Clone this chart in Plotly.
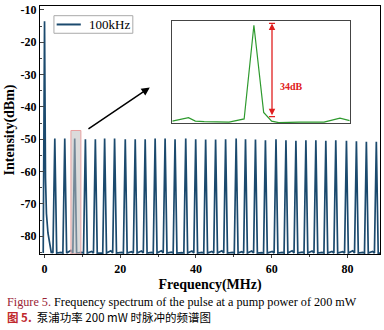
import plotly.graph_objects as go

# ---------------- data ----------------
# main spectrum: central (DC) spike and the comb of harmonics
dc_x = [-0.35, 0.0, 0.25, 0.5, 0.9, 1.3, 1.8]
dc_y = [-85.2, -13.5, -62.0, -73.0, -79.0, -82.0, -85.2]

peak_freqs = [2.71, 5.34, 7.97, 10.79, 13.42, 15.87, 18.50, 21.32, 23.95, 26.58,
              29.21, 31.84, 34.47, 37.29, 39.92, 42.55, 45.18, 47.82, 50.61, 53.08,
              55.71, 58.34, 61.13, 63.76, 66.39, 69.03, 71.66, 74.29, 76.92, 79.74,
              82.37, 85.00, 87.63]
peak_levels = [-49.8, -49.8, -49.8, -50.0, -50.0, -49.8, -49.8, -50.0, -50.0, -50.0,
               -49.8, -49.8, -50.0, -49.8, -50.0, -50.1, -50.1, -50.0, -49.8, -50.0,
               -50.1, -50.3, -50.0, -50.3, -50.5, -50.3, -50.3, -50.5, -50.3, -50.5,
               -50.6, -50.8, -50.8]
floor_levels = [-84.6, -85.0, -84.4, -85.0, -84.7, -85.1, -84.5, -85.0, -84.8, -84.6,
                -85.0, -84.5, -84.9, -85.1, -84.6, -85.0, -84.7, -84.5, -85.0, -84.8,
                -84.6, -85.1, -84.7, -85.0, -84.5, -84.9, -84.6, -85.0, -84.7, -84.8,
                -84.5, -85.0, -84.7]

# inset (zoom on one harmonic)
inset_x = [0.0, 1.83, 2.6, 3.6, 6.4, 8.1, 9.2, 10.3, 11.2, 12.0, 14.3, 17.1, 18.9, 20.0]
inset_y = [-85.63, -84.35, -85.63, -85.81, -85.99, -84.83, -50.3, -82.42, -85.63,
           -86.17, -85.99, -85.99, -84.53, -85.45]

x_ticks = [0, 20, 40, 60, 80]
y_ticks = [-10, -20, -30, -40, -50, -60, -70, -80]
legend_label = "100kHz"

# ---------------- build trace ----------------
xs, ys = list(dc_x), list(dc_y)
floor = -85.2
for f, lv, fl in zip(peak_freqs, peak_levels, floor_levels):
    xs += [f - 1.0, f - 0.5, f, f + 0.5]
    ys += [fl, floor, lv, floor]
xs.append(88.6)
ys.append(floor)

BLUE = "#1b4a6e"
SERIF = "Liberation Serif"

fig = go.Figure()
fig.add_trace(go.Scatter(x=xs, y=ys, mode="lines", name=legend_label, showlegend=False,
                         line=dict(color=BLUE, width=1.7)))
fig.add_trace(go.Scatter(x=inset_x, y=inset_y, mode="lines", showlegend=False,
                         line=dict(color="#2e9a2e", width=1.2),
                         xaxis="x2", yaxis="y2"))

axis_font = dict(family=SERIF, size=12, color="black")
fig.update_layout(
    width=384, height=330,
    margin=dict(l=40, r=3, t=3, b=76),
    paper_bgcolor="white", plot_bgcolor="white",
    font=dict(family=SERIF, color="black"),
    xaxis=dict(range=[-1.2, 88.6], tickvals=x_ticks,
               ticktext=[f"<b>{v}</b>" for v in x_ticks],
               tickfont=axis_font, ticks="outside", ticklen=3, tickwidth=1.2,
               minor=dict(dtick=10, tick0=0, ticks="outside", ticklen=2),
               showline=True, linecolor="black", linewidth=1.4, mirror=True,
               showgrid=False, zeroline=False,
               title=dict(text="<b>Frequency(MHz)</b>", standoff=4,
                          font=dict(family=SERIF, size=14))),
    yaxis=dict(range=[-85.5, -8.8], tickvals=y_ticks,
               ticktext=[f"<b>{v}</b>" for v in y_ticks],
               tickfont=axis_font, ticks="inside", ticklen=4, tickwidth=1.2,
               minor=dict(dtick=5, tick0=0, ticks="inside", ticklen=2),
               showline=True, linecolor="black", linewidth=1.4, mirror=True,
               showgrid=False, zeroline=False,
               title=dict(text="<b>Intensity(dBm)</b>", standoff=2,
                          font=dict(family=SERIF, size=14))),
    xaxis2=dict(domain=[0.389, 0.911], anchor="y2", range=[0, 20],
                showline=True, linecolor="#444444", linewidth=1, mirror=True,
                showticklabels=False, ticks="", showgrid=False, zeroline=False),
    yaxis2=dict(domain=[0.527, 0.939], anchor="x2", range=[-86.44, -48.76],
                showline=True, linecolor="#444444", linewidth=1, mirror=True,
                showticklabels=False, ticks="", showgrid=False, zeroline=False),
)

# legend (drawn manually for the compact box)
fig.add_shape(type="rect", xref="paper", yref="paper", x0=0.041, x1=0.273,
              y0=0.890, y1=0.961, fillcolor="white", line=dict(color="#aaaaaa", width=1))
fig.add_shape(type="line", xref="paper", yref="paper", x0=0.049, x1=0.120,
              y0=0.9255, y1=0.9255, line=dict(color=BLUE, width=2))
fig.add_annotation(x=0.138, y=0.9255, xref="paper", yref="paper", xanchor="left",
                   yanchor="middle", showarrow=False, text=legend_label,
                   font=dict(family=SERIF, size=13, color="black"))

# highlighted harmonic
fig.add_shape(type="rect", xref="x", yref="y", x0=6.97, x1=9.6, y0=-85.5, y1=-47.3,
              fillcolor="rgba(190,190,190,0.55)", line=dict(color="#e8a0a0", width=1),
              layer="above")

# black arrow to the inset
fig.add_annotation(x=27.8, y=-34.0, ax=11.2, ay=-47.1, xref="x", yref="y",
                   axref="x", ayref="y", text="", showarrow=True,
                   arrowhead=2, arrowsize=1.1, arrowwidth=1.5, arrowcolor="black")

# red double arrow in inset
RED = "#e02020"
fig.add_annotation(x=11.24, y=-49.6, ax=11.24, ay=-84.0, xref="x2", yref="y2",
                   axref="x2", ayref="y2", text="", showarrow=True,
                   arrowhead=2, startarrowhead=2, arrowside="end+start",
                   arrowsize=1, startarrowsize=1, arrowwidth=1.3, arrowcolor=RED)
for yv in (-49.6, -84.0):
    fig.add_shape(type="line", xref="x2", yref="y2", x0=10.9, x1=11.58, y0=yv, y1=yv,
                  line=dict(color=RED, width=1.2))
fig.add_annotation(x=13.4, y=-73.0, xref="x2", yref="y2", text="<b>34dB</b>",
                   showarrow=False, font=dict(family=SERIF, size=10, color=RED))

# caption
fig.add_annotation(x=-0.103, y=-0.195, xref="paper", yref="paper", xanchor="left",
                   yanchor="middle", showarrow=False, align="left",
                   text="<span style='color:#9b2335'>Figure 5.</span> Frequency spectrum of the pulse at a pump power of 200 mW",
                   font=dict(family=SERIF, size=12.2, color="black"))
fig.add_annotation(x=-0.103, y=-0.255, xref="paper", yref="paper", xanchor="left",
                   yanchor="middle", showarrow=False, align="left",
                   text="<span style='color:#c0282d'><b>图 5.</b></span>  泵浦功率 200 mW 时脉冲的频谱图",
                   font=dict(family="Noto Sans CJK SC", size=11.5, color="black"))

fig.write_html("out.html")
